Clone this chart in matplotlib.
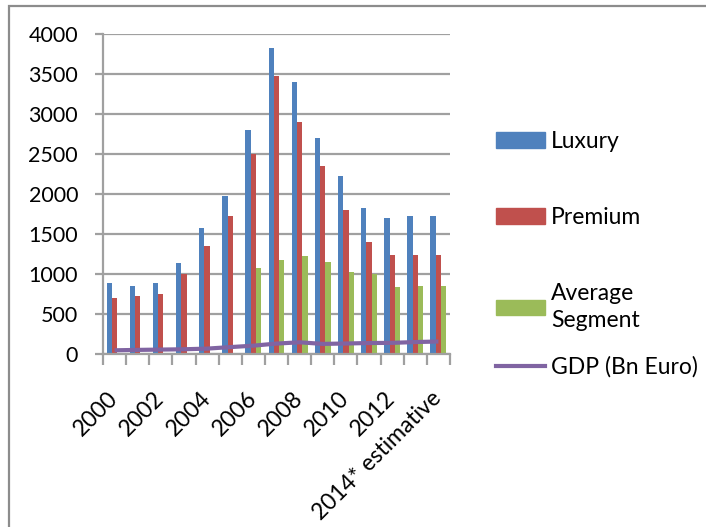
import matplotlib.pyplot as plt
import numpy as np
from matplotlib.patches import Patch, Rectangle
from matplotlib.lines import Line2D

plt.rcParams['font.family'] = ['Lato', 'DejaVu Sans']

years = ['2000', '2001', '2002', '2003', '2004', '2005', '2006', '2007',
         '2008', '2009', '2010', '2011', '2012', '2013', '2014* estimative']

# Car sales by segment
luxury = [880, 850, 880, 1130, 1570, 1970, 2800, 3820,
          3400, 2700, 2220, 1820, 1700, 1720, 1720]
premium = [700, 720, 745, 990, 1340, 1720, 2500, 3470,
           2900, 2350, 1800, 1390, 1230, 1235, 1235]
average_segment = [0, 0, 0, 0, 0, 0, 1070, 1170,
                   1220, 1150, 1020, 990, 835, 845, 850]
# GDP (Bn Euro)
gdp = [40, 45, 49, 53, 61, 80, 98, 124, 140, 120, 125, 131, 133, 143, 150]

c_lux = '#4F81BD'
c_prem = '#C0504D'
c_avg = '#9BBB59'
c_gdp = '#8064A2'
grid_col = '#a0a0a0'
fs = 16.5

fig = plt.figure(figsize=(7.06, 5.27), dpi=100)
ax = fig.add_axes([103/706, 1 - 353.5/527, 347/706, 320/527])

x = np.arange(len(years))
w = 0.23
ax.bar(x - w, luxury, w, color=c_lux, zorder=2)
ax.bar(x, premium, w, color=c_prem, zorder=2)
ax.bar(x + w, average_segment, w, color=c_avg, zorder=2)
ax.plot(x, gdp, color=c_gdp, lw=3, zorder=3, solid_capstyle='butt')

ax.set_xlim(-0.5, len(years) - 0.5)
ax.set_ylim(0, 4000)
ax.set_yticks(np.arange(0, 4001, 500))
ax.yaxis.grid(True, color=grid_col, lw=1.6)
ax.set_axisbelow(True)

for side in ['top', 'right']:
    ax.spines[side].set_visible(False)
for side in ['left', 'bottom']:
    ax.spines[side].set_color(grid_col)
    ax.spines[side].set_linewidth(1.6)

ax.tick_params(axis='y', length=6, width=1.6, color=grid_col,
               labelsize=fs - 1, pad=12)

# labels on every other year, tick marks between categories
ax.set_xticks(x[::2])
ax.set_xticklabels(years[::2], rotation=45, ha='right', va='center',
                   rotation_mode='anchor', fontsize=fs)
ax.tick_params(axis='x', which='major', length=0, pad=30)
ax.set_xticks(np.arange(-0.5, len(years), 1), minor=True)
ax.tick_params(axis='x', which='minor', length=8, width=1.6, color=grid_col)

leg_kw = dict(frameon=False, fontsize=fs, handlelength=2.15, handleheight=0.65,
              handletextpad=0.25, borderpad=0, borderaxespad=0)
bar_leg = fig.legend([Patch(color=c_lux), Patch(color=c_prem), Patch(color=c_avg)],
                     ['Luxury', 'Premium', 'Average\nSegment'],
                     loc='upper left', bbox_to_anchor=(496/706, 1 - 131/527),
                     labelspacing=2.4, **leg_kw)
for t in bar_leg.get_texts():
    t.set_linespacing(1.35)
fig.legend([Line2D([], [], color=c_gdp, lw=3)], ['GDP (Bn Euro)'],
           loc='center left', bbox_to_anchor=(496/706, 1 - 367/527), **leg_kw)

# chart border
fig.add_artist(Rectangle((9/706, -0.1), 1.2, 1.1 - 6/527, transform=fig.transFigure,
                         fill=False, edgecolor='#8c8c8c', lw=1.6))

fig.savefig('out.png', dpi=100)
